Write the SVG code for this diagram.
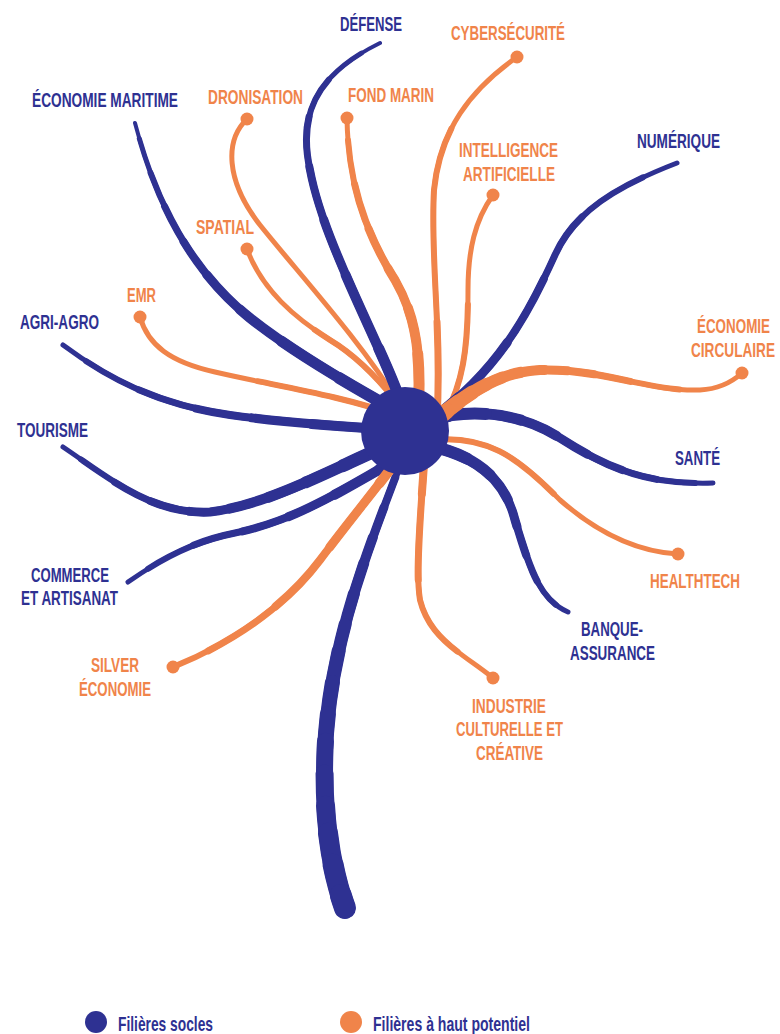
<svg xmlns="http://www.w3.org/2000/svg" xmlns:xlink="http://www.w3.org/1999/xlink" width="780" height="1034" viewBox="0 0 780 1034">
<style>
.n{fill:none;stroke:#2E3192;stroke-linecap:round;stroke-linejoin:round}
.o{fill:none;stroke:#F0844A;stroke-linecap:round;stroke-linejoin:round}
.tn{font-family:"Liberation Sans",Arial,sans-serif;font-weight:bold;font-size:21px;fill:#2E3192}
.to{font-family:"Liberation Sans",Arial,sans-serif;font-weight:bold;font-size:21px;fill:#F0844A}
.tl{font-family:"Liberation Sans",Arial,sans-serif;font-weight:bold;font-size:21px;fill:#2E3192}
.dot{fill:#F0844A}
.hub{fill:#2E3192}
</style>
<defs>
<path id="pdef" pathLength="100" d="M405,415 C390,360 325,250 310,170 C298,115 315,75 380,43"/>
<path id="pmar" pathLength="100" d="M395,410 C350,385 290,350 250,318 C190,270 155,200 135,123"/>
<path id="pagr" pathLength="100" d="M400,430 C330,426 280,422 230,415 C160,405 110,380 63,345"/>
<path id="ptou" pathLength="100" d="M400,440 C340,465 270,505 210,512 C150,515 105,475 63,447"/>
<path id="pcom" pathLength="100" d="M400,458 C350,485 300,520 235,533 C190,542 160,560 128,582"/>
<path id="pbot" pathLength="100" d="M345,908 C335,880 322,830 325,750 C330,640 370,545 400,465"/>
<path id="pnum" pathLength="100" d="M430,420 C500,370 530,310 555,255 C575,210 620,185 677,163"/>
<path id="psan" pathLength="100" d="M430,420 C470,408 520,412 560,438 C610,470 650,485 713,483"/>
<path id="pban" pathLength="100" d="M425,445 C478,455 505,480 515,520 C530,570 540,600 568,612"/>
<path id="pcyb" pathLength="100" d="M437,420 C442,330 430,260 434,190 C440,130 470,90 517,57"/>
<path id="pia" pathLength="100" d="M445,415 C465,380 468,340 468,290 C468,250 475,220 493,195"/>
<path id="pfon" pathLength="100" d="M418,420 C422,350 415,315 395,280 C370,240 348,190 347,118"/>
<path id="pdro" pathLength="100" d="M400,405 C360,340 300,275 260,225 C225,180 225,140 247,119"/>
<path id="pspa" pathLength="100" d="M395,400 C375,375 355,355 330,340 C295,318 262,290 247,249"/>
<path id="pemr" pathLength="100" d="M395,415 C340,395 270,385 215,372 C170,362 148,345 140,317"/>
<path id="psil" pathLength="100" d="M405,450 C375,490 350,520 320,560 C290,600 240,640 173,667"/>
<path id="pind" pathLength="100" d="M425,450 C421,510 415,570 420,600 C430,640 465,655 493,678"/>
<path id="phea" pathLength="100" d="M430,440 C490,434 520,460 560,500 C600,535 640,552 678,554"/>
<path id="pcir" pathLength="100" d="M430,425 C470,390 500,372 540,370 C600,368 650,392 700,390 C720,389 732,382 742,373"/>
</defs>

<g id="connectors">
  <g id="c-dronisation"><use href="#pdro" class="o" stroke-width="5"/></g>
  <g id="c-spatial"><use href="#pspa" class="o" stroke-width="5"/><use href="#pspa" class="o" stroke-width="6" stroke-dasharray="50 200"/></g>
  <g id="c-emr"><use href="#pemr" class="o" stroke-width="5"/><use href="#pemr" class="o" stroke-width="6" stroke-dasharray="50 200"/></g>
  <g id="c-cyber"><use href="#pcyb" class="o" stroke-width="5"/><use href="#pcyb" class="o" stroke-width="6" stroke-dasharray="75 200"/><use href="#pcyb" class="o" stroke-width="7" stroke-dasharray="25 200"/></g>
  <g id="c-ia"><use href="#pia" class="o" stroke-width="5"/><use href="#pia" class="o" stroke-width="6" stroke-dasharray="50 200"/></g>
  <g id="c-healthtech"><use href="#phea" class="o" stroke-width="5"/><use href="#phea" class="o" stroke-width="6" stroke-dasharray="50 200"/></g>
  <g id="c-industrie"><use href="#pind" class="o" stroke-width="5"/><use href="#pind" class="o" stroke-width="6" stroke-dasharray="83 200"/><use href="#pind" class="o" stroke-width="7" stroke-dasharray="50 200"/><use href="#pind" class="o" stroke-width="8" stroke-dasharray="17 200"/></g>

  <g id="c-defense">
    <use href="#pdef" class="n" stroke-width="4"/>
    <use href="#pdef" class="n" stroke-width="5" stroke-dasharray="95 200"/>
    <use href="#pdef" class="n" stroke-width="6" stroke-dasharray="85 200"/>
    <use href="#pdef" class="n" stroke-width="7" stroke-dasharray="75 200"/>
    <use href="#pdef" class="n" stroke-width="8" stroke-dasharray="63 200"/>
    <use href="#pdef" class="n" stroke-width="9" stroke-dasharray="50 200"/>
    <use href="#pdef" class="n" stroke-width="10" stroke-dasharray="36 200"/>
    <use href="#pdef" class="n" stroke-width="11" stroke-dasharray="17 200"/>
  </g>
  <g id="c-maritime">
    <use href="#pmar" class="n" stroke-width="4"/>
    <use href="#pmar" class="n" stroke-width="5" stroke-dasharray="96 200"/>
    <use href="#pmar" class="n" stroke-width="6" stroke-dasharray="87 200"/>
    <use href="#pmar" class="n" stroke-width="7" stroke-dasharray="78 200"/>
    <use href="#pmar" class="n" stroke-width="8" stroke-dasharray="68 200"/>
    <use href="#pmar" class="n" stroke-width="9" stroke-dasharray="58 200"/>
    <use href="#pmar" class="n" stroke-width="10" stroke-dasharray="46 200"/>
    <use href="#pmar" class="n" stroke-width="11" stroke-dasharray="33 200"/>
    <use href="#pmar" class="n" stroke-width="12" stroke-dasharray="16 200"/>
  </g>
  <g id="c-agri">
    <use href="#pagr" class="n" stroke-width="5"/>
    <use href="#pagr" class="n" stroke-width="6" stroke-dasharray="92 200"/>
    <use href="#pagr" class="n" stroke-width="7" stroke-dasharray="75 200"/>
    <use href="#pagr" class="n" stroke-width="8" stroke-dasharray="58 200"/>
    <use href="#pagr" class="n" stroke-width="9" stroke-dasharray="42 200"/>
    <use href="#pagr" class="n" stroke-width="10" stroke-dasharray="25 200"/>
    <use href="#pagr" class="n" stroke-width="11" stroke-dasharray="8 200"/>
  </g>
  <g id="c-tourisme">
    <use href="#ptou" class="n" stroke-width="5"/>
    <use href="#ptou" class="n" stroke-width="6" stroke-dasharray="94 200"/>
    <use href="#ptou" class="n" stroke-width="7" stroke-dasharray="83 200"/>
    <use href="#ptou" class="n" stroke-width="8" stroke-dasharray="72 200"/>
    <use href="#ptou" class="n" stroke-width="9" stroke-dasharray="61 200"/>
    <use href="#ptou" class="n" stroke-width="10" stroke-dasharray="50 200"/>
    <use href="#ptou" class="n" stroke-width="11" stroke-dasharray="39 200"/>
    <use href="#ptou" class="n" stroke-width="12" stroke-dasharray="28 200"/>
    <use href="#ptou" class="n" stroke-width="13" stroke-dasharray="17 200"/>
    <use href="#ptou" class="n" stroke-width="14" stroke-dasharray="6 200"/>
  </g>
  <g id="c-commerce">
    <use href="#pcom" class="n" stroke-width="5"/>
    <use href="#pcom" class="n" stroke-width="6" stroke-dasharray="92 200"/>
    <use href="#pcom" class="n" stroke-width="7" stroke-dasharray="75 200"/>
    <use href="#pcom" class="n" stroke-width="8" stroke-dasharray="58 200"/>
    <use href="#pcom" class="n" stroke-width="9" stroke-dasharray="42 200"/>
    <use href="#pcom" class="n" stroke-width="10" stroke-dasharray="25 200"/>
    <use href="#pcom" class="n" stroke-width="11" stroke-dasharray="8 200"/>
  </g>
  <g id="c-numerique">
    <use href="#pnum" class="n" stroke-width="5"/>
    <use href="#pnum" class="n" stroke-width="6" stroke-dasharray="90 200"/>
    <use href="#pnum" class="n" stroke-width="7" stroke-dasharray="70 200"/>
    <use href="#pnum" class="n" stroke-width="8" stroke-dasharray="50 200"/>
    <use href="#pnum" class="n" stroke-width="9" stroke-dasharray="30 200"/>
    <use href="#pnum" class="n" stroke-width="10" stroke-dasharray="10 200"/>
  </g>
  <g id="c-sante">
    <use href="#psan" class="n" stroke-width="5"/>
    <use href="#psan" class="n" stroke-width="6" stroke-dasharray="94 200"/>
    <use href="#psan" class="n" stroke-width="7" stroke-dasharray="81 200"/>
    <use href="#psan" class="n" stroke-width="8" stroke-dasharray="69 200"/>
    <use href="#psan" class="n" stroke-width="9" stroke-dasharray="56 200"/>
    <use href="#psan" class="n" stroke-width="10" stroke-dasharray="44 200"/>
    <use href="#psan" class="n" stroke-width="11" stroke-dasharray="31 200"/>
    <use href="#psan" class="n" stroke-width="12" stroke-dasharray="19 200"/>
    <use href="#psan" class="n" stroke-width="13" stroke-dasharray="6 200"/>
  </g>
  <g id="c-banque">
    <use href="#pban" class="n" stroke-width="5"/>
    <use href="#pban" class="n" stroke-width="6" stroke-dasharray="94 200"/>
    <use href="#pban" class="n" stroke-width="7" stroke-dasharray="81 200"/>
    <use href="#pban" class="n" stroke-width="8" stroke-dasharray="69 200"/>
    <use href="#pban" class="n" stroke-width="9" stroke-dasharray="56 200"/>
    <use href="#pban" class="n" stroke-width="10" stroke-dasharray="44 200"/>
    <use href="#pban" class="n" stroke-width="11" stroke-dasharray="31 200"/>
    <use href="#pban" class="n" stroke-width="12" stroke-dasharray="19 200"/>
    <use href="#pban" class="n" stroke-width="13" stroke-dasharray="6 200"/>
  </g>
  <g id="c-bottom">
    <use href="#pbot" class="n" stroke-width="7"/>
    <use href="#pbot" class="n" stroke-width="8" stroke-dasharray="97 200"/>
    <use href="#pbot" class="n" stroke-width="9" stroke-dasharray="90 200"/>
    <use href="#pbot" class="n" stroke-width="10" stroke-dasharray="83 200"/>
    <use href="#pbot" class="n" stroke-width="11" stroke-dasharray="77 200"/>
    <use href="#pbot" class="n" stroke-width="12" stroke-dasharray="70 200"/>
    <use href="#pbot" class="n" stroke-width="13" stroke-dasharray="63 200"/>
    <use href="#pbot" class="n" stroke-width="14" stroke-dasharray="57 200"/>
    <use href="#pbot" class="n" stroke-width="15" stroke-dasharray="50 200"/>
    <use href="#pbot" class="n" stroke-width="16" stroke-dasharray="43 200"/>
    <use href="#pbot" class="n" stroke-width="17" stroke-dasharray="37 200"/>
    <use href="#pbot" class="n" stroke-width="18" stroke-dasharray="30 200"/>
    <use href="#pbot" class="n" stroke-width="19" stroke-dasharray="23 200"/>
    <use href="#pbot" class="n" stroke-width="20" stroke-dasharray="17 200"/>
    <use href="#pbot" class="n" stroke-width="21" stroke-dasharray="10 200"/>
    <use href="#pbot" class="n" stroke-width="22" stroke-dasharray="3 200"/>
  </g>

  <g id="c-fondmarin">
    <use href="#pfon" class="o" stroke-width="5"/>
    <use href="#pfon" class="o" stroke-width="6" stroke-dasharray="93 200"/>
    <use href="#pfon" class="o" stroke-width="7" stroke-dasharray="79 200"/>
    <use href="#pfon" class="o" stroke-width="8" stroke-dasharray="64 200"/>
    <use href="#pfon" class="o" stroke-width="9" stroke-dasharray="50 200"/>
    <use href="#pfon" class="o" stroke-width="10" stroke-dasharray="36 200"/>
    <use href="#pfon" class="o" stroke-width="11" stroke-dasharray="21 200"/>
    <use href="#pfon" class="o" stroke-width="12" stroke-dasharray="7 200"/>
  </g>
  <g id="c-silver">
    <use href="#psil" class="o" stroke-width="6"/>
    <use href="#psil" class="o" stroke-width="7" stroke-dasharray="88 200"/>
    <use href="#psil" class="o" stroke-width="8" stroke-dasharray="63 200"/>
    <use href="#psil" class="o" stroke-width="9" stroke-dasharray="38 200"/>
    <use href="#psil" class="o" stroke-width="10" stroke-dasharray="13 200"/>
  </g>
  <g id="c-circulaire">
    <use href="#pcir" class="o" stroke-width="5"/>
    <use href="#pcir" class="o" stroke-width="6" stroke-dasharray="80 200"/>
    <use href="#pcir" class="o" stroke-width="7" stroke-dasharray="65 200"/>
    <use href="#pcir" class="o" stroke-width="8" stroke-dasharray="54 200"/>
    <use href="#pcir" class="o" stroke-width="9" stroke-dasharray="46 200"/>
    <use href="#pcir" class="o" stroke-width="10" stroke-dasharray="39 200"/>
    <use href="#pcir" class="o" stroke-width="11" stroke-dasharray="32 200"/>
    <use href="#pcir" class="o" stroke-width="12" stroke-dasharray="26 200"/>
    <use href="#pcir" class="o" stroke-width="13" stroke-dasharray="21 200"/>
    <use href="#pcir" class="o" stroke-width="14" stroke-dasharray="16 200"/>
    <use href="#pcir" class="o" stroke-width="15" stroke-dasharray="11 200"/>
    <use href="#pcir" class="o" stroke-width="16" stroke-dasharray="6.5 200"/>
  </g>
</g>

<g id="hub"><circle class="hub" cx="405" cy="431" r="44"/></g>

<g id="n-defense"><text class="tn" x="340" y="31" textLength="62" lengthAdjust="spacingAndGlyphs">DÉFENSE</text></g>
<g id="n-maritime"><text class="tn" x="32" y="107" textLength="146" lengthAdjust="spacingAndGlyphs">ÉCONOMIE MARITIME</text></g>
<g id="n-numerique"><text class="tn" x="637" y="148" textLength="83" lengthAdjust="spacingAndGlyphs">NUMÉRIQUE</text></g>
<g id="n-agri"><text class="tn" x="20" y="329" textLength="79" lengthAdjust="spacingAndGlyphs">AGRI-AGRO</text></g>
<g id="n-tourisme"><text class="tn" x="17" y="437" textLength="71" lengthAdjust="spacingAndGlyphs">TOURISME</text></g>
<g id="n-sante"><text class="tn" x="675" y="465" textLength="45" lengthAdjust="spacingAndGlyphs">SANTÉ</text></g>
<g id="n-commerce">
  <text class="tn" x="31" y="582" textLength="78" lengthAdjust="spacingAndGlyphs">COMMERCE</text>
  <text class="tn" x="21" y="605" textLength="97" lengthAdjust="spacingAndGlyphs">ET ARTISANAT</text>
</g>
<g id="n-banque">
  <text class="tn" x="581" y="636" textLength="62" lengthAdjust="spacingAndGlyphs">BANQUE-</text>
  <text class="tn" x="570" y="660" textLength="85" lengthAdjust="spacingAndGlyphs">ASSURANCE</text>
</g>

<g id="n-cyber"><circle class="dot" cx="517" cy="57" r="6.5"/><text class="to" x="451" y="40" textLength="114" lengthAdjust="spacingAndGlyphs">CYBERSÉCURITÉ</text></g>
<g id="n-dronisation"><circle class="dot" cx="247" cy="119" r="6.5"/><text class="to" x="208" y="104" textLength="95" lengthAdjust="spacingAndGlyphs">DRONISATION</text></g>
<g id="n-fondmarin"><circle class="dot" cx="347" cy="118" r="6.5"/><text class="to" x="348" y="102" textLength="86" lengthAdjust="spacingAndGlyphs">FOND MARIN</text></g>
<g id="n-ia"><circle class="dot" cx="493" cy="195" r="6.5"/>
  <text class="to" x="459" y="157" textLength="99" lengthAdjust="spacingAndGlyphs">INTELLIGENCE</text>
  <text class="to" x="463" y="181" textLength="92" lengthAdjust="spacingAndGlyphs">ARTIFICIELLE</text>
</g>
<g id="n-spatial"><circle class="dot" cx="247" cy="249" r="6.5"/><text class="to" x="196" y="234" textLength="58" lengthAdjust="spacingAndGlyphs">SPATIAL</text></g>
<g id="n-emr"><circle class="dot" cx="140" cy="317" r="6.5"/><text class="to" x="127" y="302" textLength="29" lengthAdjust="spacingAndGlyphs">EMR</text></g>
<g id="n-circulaire"><circle class="dot" cx="742" cy="373" r="6.5"/>
  <text class="to" x="697" y="333" textLength="73" lengthAdjust="spacingAndGlyphs">ÉCONOMIE</text>
  <text class="to" x="691" y="357" textLength="84" lengthAdjust="spacingAndGlyphs">CIRCULAIRE</text>
</g>
<g id="n-healthtech"><circle class="dot" cx="678" cy="554" r="6.5"/><text class="to" x="650" y="588" textLength="90" lengthAdjust="spacingAndGlyphs">HEALTHTECH</text></g>
<g id="n-silver"><circle class="dot" cx="173" cy="667" r="6.5"/>
  <text class="to" x="91" y="672" textLength="48" lengthAdjust="spacingAndGlyphs">SILVER</text>
  <text class="to" x="79" y="696" textLength="72" lengthAdjust="spacingAndGlyphs">ÉCONOMIE</text>
</g>
<g id="n-industrie"><circle class="dot" cx="493" cy="678" r="6.5"/>
  <text class="to" x="472" y="713" textLength="74" lengthAdjust="spacingAndGlyphs">INDUSTRIE</text>
  <text class="to" x="456" y="736" textLength="107" lengthAdjust="spacingAndGlyphs">CULTURELLE ET</text>
  <text class="to" x="476" y="760" textLength="67" lengthAdjust="spacingAndGlyphs">CRÉATIVE</text>
</g>

<g id="legend">
  <circle cx="96" cy="1022" r="11" fill="#2E3192"/>
  <text class="tl" x="118" y="1031" textLength="95" lengthAdjust="spacingAndGlyphs">Filières socles</text>
  <circle cx="351" cy="1022" r="11" fill="#F0844A"/>
  <text class="tl" x="373" y="1031" textLength="157" lengthAdjust="spacingAndGlyphs">Filières à haut potentiel</text>
</g>
</svg>
